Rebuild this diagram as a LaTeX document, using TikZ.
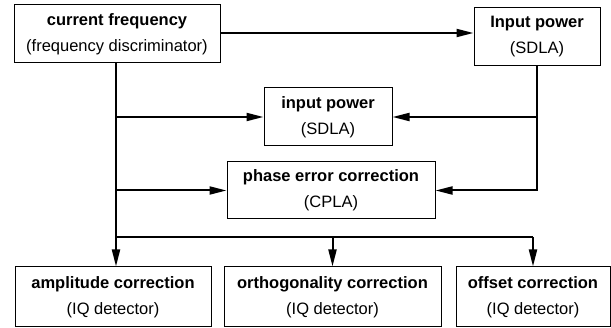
\documentclass[tikz,border=0pt]{standalone}
\usepackage{fontspec}
\setmainfont{Liberation Sans}
\usetikzlibrary{arrows.meta,calc}
\begin{document}
\begin{tikzpicture}[x=1pt,y=-1pt,
  blk/.style={draw,line width=1pt,inner sep=0pt,align=center,
    font=\fontsize{16.5}{26}\selectfont},
  conn/.style={line width=2pt},
  arr/.style={conn,-{Triangle[length=17pt,width=8pt]}}]
\useasboundingbox (0,0) rectangle (611,328);
\node[blk,minimum width=206pt,minimum height=58pt] (cf) at (117,34) {\textbf{current frequency}\\(frequency discriminator)};
\node[blk,minimum width=126pt,minimum height=58pt] (ip1) at (537,37) {\textbf{Input power}\\(SDLA)};
\node[blk,minimum width=128pt,minimum height=58pt] (ip2) at (328,117) {\textbf{input power}\\(SDLA)};
\node[blk,minimum width=208pt,minimum height=57pt] (pe) at (331,190.5) {\textbf{phase error correction}\\(CPLA)};
\node[blk,minimum width=196pt,minimum height=60pt] (amp) at (113,297) {\textbf{amplitude correction}\\(IQ detector)};
\node[blk,minimum width=217pt,minimum height=60pt] (orth) at (332.5,297) {\textbf{orthogonality correction}\\(IQ detector)};
\node[blk,minimum width=154pt,minimum height=60pt] (off) at (533,297) {\textbf{offset correction}\\(IQ detector)};
\coordinate (bus) at (116,237);
\coordinate (cfs) at (116,63);
\draw[arr] (cf.east |- 0,33) -- (ip1.west |- 0,33);
\draw[arr] (cfs) -- (cfs |- amp.north);
\draw[arr] (cfs |- ip2.west) -- (ip2.west);
\draw[arr] (cfs |- pe.west) -- (pe.west);
\draw[arr] (ip1.south |- ip2.east) -- (ip2.east);
\draw[arr] (ip1.south) |- (pe.east);
\draw[conn] (bus) -- (bus -| off.north);
\draw[arr] (bus -| orth.north) -- (orth.north);
\draw[arr] (bus -| off.north) -- (off.north);
\end{tikzpicture}
\end{document}
